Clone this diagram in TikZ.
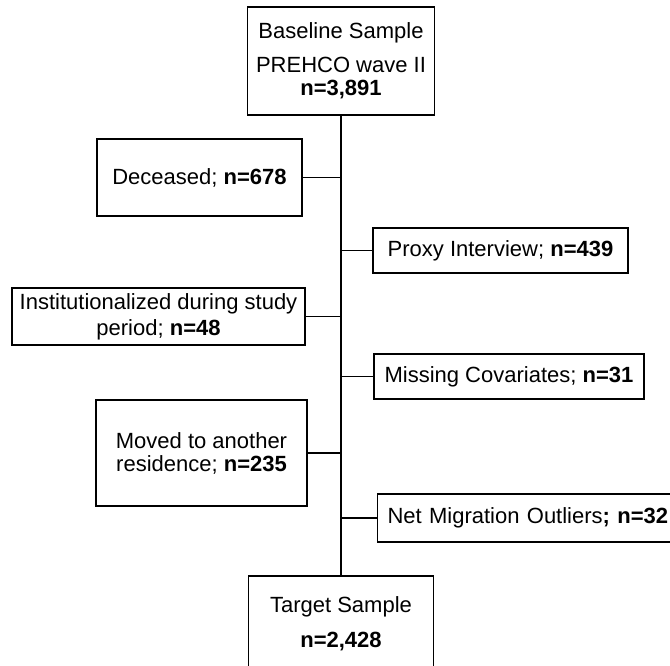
\documentclass[tikz,border=0pt]{standalone}
\usepackage{fontspec}
\setmainfont{Liberation Sans}
\begin{document}
\begin{tikzpicture}[x=1pt,y=-1pt,
  box/.style={draw=black,line width=1.1pt,inner sep=0pt,align=center,
    font=\fontsize{22}{23}\selectfont},
  link/.style={draw=black,line width=1.1pt}]
  % page area
  \clip (0,0) rectangle (670,665);
  \fill[white] (0,0) rectangle (670,665);

  % main column
  \node[box,minimum width=187pt,minimum height=108pt] (top) at (341,61)
    {Baseline Sample\\[11pt]PREHCO wave II\\\textbf{n=3,891}};
  \node[box,minimum width=185pt,minimum height=96pt] (target) at (341,624)
    {Target Sample\\[12pt]\textbf{n=2,428}};

  % exclusions on the left
  \node[box,minimum width=205pt,minimum height=77pt] (dec) at (199.5,177.5)
    {Deceased; \textbf{n=678}};
  \node[box,minimum width=293pt,minimum height=57pt,
        font=\fontsize{22}{26}\selectfont] (inst) at (158.5,316.5)
    {Institutionalized during study\\period; \textbf{n=48}};
  \node[box,minimum width=211pt,minimum height=106pt] (moved) at (201.5,453)
    {Moved to another\\residence; \textbf{n=235}};

  % exclusions on the right
  \node[box,minimum width=255pt,minimum height=45pt] (proxy) at (500.5,250.5)
    {Proxy Interview; \textbf{n=439}};
  \node[box,minimum width=270pt,minimum height=45pt] (miss) at (509,376.5)
    {Missing Covariates; \textbf{n=31}};
  \node[box,anchor=west,inner xsep=10pt,text width=323pt,align=left,
        minimum height=48pt] (net) at (377,518)
    {Net Migration Outliers\textbf{; n=32}};

  % trunk and branches
  \draw[link] (top.south) -- (target.north);
  \draw[link] (dec.east) -- (dec.east -| top.south);
  \draw[link] (inst.east) -- (inst.east -| top.south);
  \draw[link] (moved.east) -- (moved.east -| top.south);
  \draw[link] (proxy.west) -- (proxy.west -| top.south);
  \draw[link] (miss.west) -- (miss.west -| top.south);
  \draw[link] (net.west) -- (net.west -| top.south);
\end{tikzpicture}
\end{document}
